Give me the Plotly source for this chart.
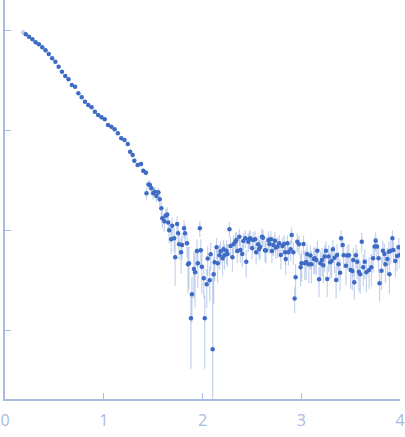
import plotly.graph_objects as go

# first point (excluded / faded)
q_excl = [0.183]
i_excl = [0.948]

q = [
    0.21, 0.243, 0.277, 0.31, 0.343, 0.377, 0.41, 0.443, 0.477, 0.51,
    0.543, 0.577, 0.61, 0.643, 0.677, 0.71, 0.743, 0.777, 0.81, 0.843,
    0.877, 0.91, 0.943, 0.977, 1.01, 1.043, 1.077, 1.11, 1.143, 1.177,
    1.21, 1.243, 1.267, 1.293, 1.31, 1.343, 1.377, 1.40, 1.427, 1.433,
    1.453, 1.467, 1.483, 1.50, 1.517, 1.533, 1.553, 1.567, 1.583, 1.593,
    1.613, 1.627, 1.643, 1.653, 1.663, 1.683, 1.693, 1.713, 1.723, 1.743,
    1.753, 1.763, 1.783, 1.793, 1.813, 1.823, 1.843, 1.853, 1.863, 1.883,
    1.893, 1.913, 1.925, 1.943, 1.953, 1.973, 1.983, 1.993, 2.013, 2.023,
    2.043, 2.053, 2.073, 2.083, 2.103, 2.113, 2.123, 2.143, 2.153, 2.173,
    2.183, 2.203, 2.213, 2.223, 2.243, 2.253, 2.273, 2.283, 2.303, 2.313,
    2.333, 2.343, 2.353, 2.373, 2.383, 2.403, 2.413, 2.433, 2.443, 2.463,
    2.473, 2.483, 2.503, 2.513, 2.533, 2.543, 2.563, 2.573, 2.585, 2.603,
    2.613, 2.633, 2.643, 2.667, 2.677, 2.693, 2.703, 2.717, 2.733, 2.743,
    2.76, 2.777, 2.793, 2.81, 2.827, 2.837, 2.843, 2.86, 2.87, 2.893,
    2.903, 2.92, 2.933, 2.943, 2.96, 2.977, 2.993, 3.003, 3.023, 3.037,
    3.05, 3.06, 3.077, 3.093, 3.103, 3.127, 3.137, 3.153, 3.163, 3.18,
    3.193, 3.21, 3.223, 3.237, 3.25, 3.263, 3.277, 3.293, 3.307, 3.32,
    3.337, 3.353, 3.363, 3.377, 3.393, 3.403, 3.42, 3.43, 3.453, 3.467,
    3.483, 3.50, 3.517, 3.527, 3.537, 3.553, 3.567, 3.583, 3.597, 3.613,
    3.627, 3.643, 3.66, 3.687, 3.71, 3.727, 3.743, 3.753, 3.767, 3.783,
    3.793, 3.813, 3.827, 3.843, 3.853, 3.873, 3.887, 3.893, 3.907, 3.923,
    3.933, 3.953, 3.97, 3.987, 4.0,
]

intensity = [
    0.906, 0.857, 0.807, 0.753, 0.719, 0.671, 0.627, 0.575, 0.521, 0.482,
    0.430, 0.383, 0.347, 0.322, 0.282, 0.271, 0.233, 0.212, 0.192, 0.178,
    0.169, 0.152, 0.141, 0.134, 0.128, 0.112, 0.108, 0.1016, 0.0927, 0.0826,
    0.0794, 0.0724, 0.0607, 0.0562, 0.0493, 0.0447, 0.0457, 0.0392, 0.0374, 0.0233,
    0.0285, 0.0282, 0.0261, 0.0233, 0.0241, 0.0219, 0.0238, 0.0203, 0.0165, 0.0131,
    0.0122, 0.0139, 0.0143, 0.0119, 0.00993, 0.00809, 0.0110, 0.00826, 0.00535, 0.0115,
    0.00927, 0.00719, 0.00598, 0.00708, 0.0104, 0.00927, 0.00735, 0.00454, 0.00465, 0.00131,
    0.00228, 0.00407, 0.00378, 0.00617, 0.00465, 0.0104, 0.00627, 0.0043, 0.00329, 0.00131,
    0.00286, 0.00519, 0.00314, 0.00571, 0.000641, 0.00361, 0.00475, 0.00671, 0.00465, 0.0056,
    0.00613, 0.00521, 0.00641, 0.0056, 0.00621, 0.00575, 0.0102, 0.00692, 0.00535, 0.00719,
    0.00761, 0.00794, 0.00617, 0.00857, 0.00631, 0.00575, 0.00776, 0.00826, 0.00481, 0.00761,
    0.00809, 0.00826, 0.00657, 0.00794, 0.00809, 0.00598, 0.00719, 0.00646, 0.00676, 0.00857,
    0.00838, 0.00627, 0.00624, 0.00794, 0.00724, 0.00809, 0.00617, 0.00708, 0.00781, 0.00667,
    0.00683, 0.00735, 0.00562, 0.00692, 0.00724, 0.00598, 0.00513, 0.00735, 0.00598, 0.00641,
    0.00891, 0.00598, 0.00207, 0.00337, 0.00761, 0.00719, 0.00424, 0.00465, 0.00724, 0.00465,
    0.00479, 0.00571, 0.00454, 0.00555, 0.00454, 0.00513, 0.00521, 0.00501, 0.00621, 0.00322,
    0.00465, 0.00501, 0.00444, 0.00542, 0.00621, 0.00324, 0.00542, 0.00475, 0.0049, 0.00641,
    0.00528, 0.00316, 0.00562, 0.00454, 0.00374, 0.00826, 0.00708, 0.0056, 0.0044, 0.00555,
    0.0056, 0.00398, 0.00389, 0.00501, 0.00301, 0.0056, 0.00481, 0.00383, 0.00361, 0.00761,
    0.00424, 0.00481, 0.00378, 0.00398, 0.00424, 0.00521, 0.00683, 0.00781, 0.00683, 0.00521,
    0.00294, 0.00392, 0.00621, 0.00575, 0.00454, 0.00513, 0.00607, 0.00361, 0.00621, 0.00826,
    0.00631, 0.0049, 0.0055, 0.00671, 0.00562,
]

err = [
    0.009, 0.008, 0.008, 0.007, 0.007, 0.007, 0.006, 0.006, 0.006, 0.005,
    0.005, 0.005, 0.004, 0.004, 0.004, 0.004, 0.004, 0.003, 0.003, 0.003,
    0.003, 0.003, 0.003, 0.003, 0.003, 0.003, 0.003, 0.0028, 0.0027, 0.0027,
    0.0026, 0.0026, 0.0026, 0.0025, 0.0025, 0.0025, 0.0025, 0.0025, 0.0025, 0.0032,
    0.003, 0.003, 0.0029, 0.0031, 0.0028, 0.0029, 0.0027, 0.0028, 0.0026, 0.0027,
    0.0026, 0.0025, 0.0026, 0.0024, 0.0025, 0.0023, 0.0024, 0.0022, 0.0026, 0.0022,
    0.0022, 0.0021, 0.0023, 0.0021, 0.0022, 0.0021, 0.002, 0.0022, 0.0021, 0.0009,
    0.0011, 0.002, 0.0021, 0.0019, 0.002, 0.0019, 0.0018, 0.002, 0.0012, 0.0009,
    0.0012, 0.0017, 0.0012, 0.0018, 0.0031, 0.0018, 0.0017, 0.0016, 0.0017, 0.0016,
    0.0016, 0.0017, 0.0015, 0.0016, 0.0017, 0.0015, 0.0018, 0.0016, 0.0015, 0.0016,
    0.0017, 0.0016, 0.0015, 0.0017, 0.0016, 0.0015, 0.0016, 0.0017, 0.0015, 0.0016,
    0.0016, 0.0017, 0.0015, 0.0016, 0.0016, 0.0015, 0.0016, 0.0015, 0.0016, 0.0017,
    0.0016, 0.0015, 0.0016, 0.0017, 0.0015, 0.0016, 0.0015, 0.0016, 0.0017, 0.0015,
    0.0016, 0.0015, 0.0016, 0.0015, 0.0016, 0.0015, 0.0016, 0.0015, 0.0016, 0.0015,
    0.0017, 0.0015, 0.0006, 0.0012, 0.0016, 0.0016, 0.0015, 0.0016, 0.0016, 0.0015,
    0.0016, 0.0015, 0.0016, 0.0015, 0.0016, 0.0015, 0.0016, 0.0015, 0.0016, 0.0011,
    0.0015, 0.0016, 0.0015, 0.0016, 0.0015, 0.0011, 0.0016, 0.0015, 0.0016, 0.0015,
    0.0016, 0.0011, 0.0016, 0.0015, 0.0013, 0.0017, 0.0016, 0.0015, 0.0016, 0.0015,
    0.0016, 0.0014, 0.0014, 0.0016, 0.001, 0.0015, 0.0016, 0.0014, 0.0013, 0.0017,
    0.0015, 0.0016, 0.0014, 0.0014, 0.0015, 0.0015, 0.0016, 0.0017, 0.0016, 0.0015,
    0.001, 0.0014, 0.0016, 0.0015, 0.0016, 0.0015, 0.0016, 0.0013, 0.0016, 0.0017,
    0.0016, 0.0015, 0.0016, 0.0016, 0.0015,
]

x_ticks = [0, 1, 2, 3, 4]
y_ticks = [1, 0.1, 0.01, 0.001]

dot = "#3d6bc5"
axis_col = "#a7bbe0"

fig = go.Figure()
fig.add_trace(go.Scatter(x=q_excl, y=i_excl, mode="markers",
                         marker=dict(color=dot, size=4.5), opacity=0.3,
                         showlegend=False))
fig.add_trace(go.Scatter(
    x=q, y=intensity, mode="markers",
    marker=dict(color=dot, size=4.5),
    error_y=dict(type="data", array=err, visible=True,
                 color="rgba(61,107,197,0.3)", thickness=1.2, width=0),
    showlegend=False))

fig.update_layout(
    width=405, height=437,
    margin=dict(l=4, r=1, t=0, b=38),
    plot_bgcolor="white", paper_bgcolor="white",
    font=dict(family="Open Sans", color=axis_col),
)
fig.update_xaxes(range=[0, 4], tickvals=x_ticks, ticks="inside", ticklen=6,
                 tickcolor=axis_col, showline=True, linecolor=axis_col,
                 linewidth=1.5, showgrid=False, zeroline=False,
                 ticklabeloverflow="allow", ticklabelstandoff=6,
                 tickfont=dict(size=16, color=axis_col))
fig.update_yaxes(type="log", range=[-3.69, 0.3], tickvals=y_ticks,
                 showticklabels=False, ticks="inside", ticklen=6,
                 tickcolor=axis_col, showline=True, linecolor=axis_col,
                 linewidth=1.5, showgrid=False, zeroline=False)

# page body has a default 8px margin; drop it so the chart sits at the corner
fig.write_html("out.html", config={"displayModeBar": False},
               post_script="document.body.style.margin='0';")
